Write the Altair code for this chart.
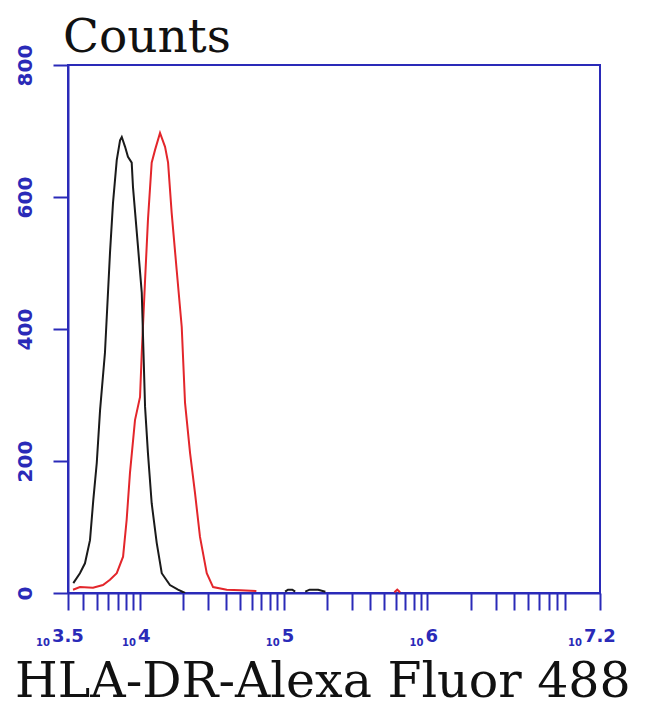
import altair as alt
import pandas as pd

# ---- data (x as log10 of intensity, y as counts) ----
black_log = [3.537, 3.583, 3.618, 3.653, 3.676, 3.700, 3.723, 3.757, 3.792, 3.813,
             3.839, 3.862, 3.874, 3.897, 3.917, 3.943, 3.952, 3.987, 4.013, 4.036,
             4.056, 4.082, 4.117, 4.152, 4.209, 4.265, 4.314]
black_cnt = [15, 30, 45, 80, 141, 197, 277, 364, 515, 591,
             656, 686, 691, 676, 661, 652, 615, 524, 455, 282,
             212, 136, 76, 30, 12, 5, 0]

red_log = [3.535, 3.583, 3.674, 3.743, 3.792, 3.839, 3.883, 3.908, 3.931, 3.966,
           4.001, 4.013, 4.036, 4.056, 4.082, 4.105, 4.140, 4.175, 4.196, 4.221,
           4.256, 4.291, 4.314, 4.349, 4.383, 4.418, 4.465, 4.509, 4.604, 4.700, 4.810]
red_cnt = [5, 9, 8, 12, 20, 30, 55, 111, 182, 262,
           297, 364, 474, 565, 652, 671, 697, 676, 652, 576,
           489, 403, 288, 212, 152, 85, 30, 9, 5, 4, 3]

# small blips near zero
black_bump1_log = [5.01, 5.03, 5.06, 5.08]
black_bump1_cnt = [2, 5, 5, 2]
black_bump2_log = [5.15, 5.18, 5.24, 5.29]
black_bump2_cnt = [2, 5, 5, 2]
red_bump_log = [5.77, 5.79, 5.81]
red_bump_cnt = [1, 5, 1]

x_tick_exps = [3.5, 4, 5, 6, 7.2]
x_tick_labels = ["3.5", "4", "5", "6", "7.2"]
y_ticks = [0, 200, 400, 600, 800]

x_min_exp, x_max_exp = 3.5, 7.2

# ---- build table ----
rows = []
def add(series, seg, logs, cnts):
    for l, c in zip(logs, cnts):
        rows.append({"series": series, "seg": seg, "x": 10 ** l, "y": c})

add("HLA-DR", "r0", red_log, red_cnt)
add("HLA-DR", "r1", red_bump_log, red_bump_cnt)
add("control", "b0", black_log, black_cnt)
add("control", "b1", black_bump1_log, black_bump1_cnt)
add("control", "b2", black_bump2_log, black_bump2_cnt)
df = pd.DataFrame(rows)

# minor/major tick positions on the log axis
tick_vals = [10 ** x_min_exp]
for d in range(3, 7):
    for m in range(1, 10):
        v = m * 10 ** d
        if 10 ** x_min_exp < v <= 10 ** 7:
            tick_vals.append(v)
tick_vals.append(10 ** x_max_exp)

lab_df = pd.DataFrame({"x": [10 ** e for e in x_tick_exps], "exp": x_tick_labels})

BLUE = "#2a2ab8"

xscale = alt.Scale(type="log", domain=[10 ** x_min_exp, 10 ** x_max_exp], nice=False)
yscale = alt.Scale(domain=[0, 800], nice=False)

lines = alt.Chart(df).mark_line(strokeWidth=2, clip=True).encode(
    x=alt.X("x:Q", scale=xscale, title=None,
            axis=alt.Axis(values=tick_vals, labels=False, tickSize=17, tickWidth=2,
                          tickColor=BLUE, domainColor=BLUE, domainWidth=2, grid=False)),
    y=alt.Y("y:Q", scale=yscale, title=None,
            axis=alt.Axis(values=y_ticks, tickSize=15, tickWidth=2, tickColor=BLUE,
                          domainColor=BLUE, domainWidth=2, grid=False,
                          labelAngle=270, labelAlign="center", labelBaseline="bottom",
                          labelPadding=18, labelFont="DejaVu Sans", labelFontWeight="bold",
                          labelFontSize=20, labelColor=BLUE)),
    color=alt.Color("series:N", scale=alt.Scale(domain=["HLA-DR", "control"],
                                                range=["#e3262b", "#1a1a1a"]), legend=None),
    detail="seg:N",
    order=alt.Order("x:Q"),
)

base_lab = alt.Chart(lab_df)
xenc = alt.X("x:Q", scale=xscale)

exp1 = base_lab.transform_filter("length(datum.exp) == 1").mark_text(
    align="left", baseline="alphabetic", dx=-2, font="DejaVu Sans", fontWeight="bold",
    fontSize=18, color=BLUE).encode(x=xenc, y=alt.value(577), text="exp:N")
exp3 = base_lab.transform_filter("length(datum.exp) > 1").mark_text(
    align="left", baseline="alphabetic", dx=-16, font="DejaVu Sans", fontWeight="bold",
    fontSize=18, color=BLUE).encode(x=xenc, y=alt.value(577), text="exp:N")
ten1 = base_lab.transform_filter("length(datum.exp) == 1").mark_text(
    align="right", baseline="alphabetic", dx=-4, font="DejaVu Sans", fontWeight="bold",
    fontSize=10, color=BLUE, text="10").encode(x=xenc, y=alt.value(581))
ten3 = base_lab.transform_filter("length(datum.exp) > 1").mark_text(
    align="right", baseline="alphabetic", dx=-18, font="DejaVu Sans", fontWeight="bold",
    fontSize=10, color=BLUE, text="10").encode(x=xenc, y=alt.value(581))

title_df = pd.DataFrame({"t": ["Counts"]})
xlab_df = pd.DataFrame({"t": ["HLA-DR-Alexa Fluor 488"]})

title = alt.Chart(title_df).mark_text(
    align="left", baseline="alphabetic", font="DejaVu Serif", fontSize=47,
    color="#111111").encode(text="t:N", x=alt.value(-5), y=alt.value(-13))
xlab = alt.Chart(xlab_df).mark_text(
    align="left", baseline="alphabetic", font="DejaVu Serif", fontSize=49,
    color="#111111").encode(text="t:N", x=alt.value(-53), y=alt.value(632))

chart = alt.layer(lines, exp1, exp3, ten1, ten3, title, xlab).properties(
    width=532, height=528,
    autosize=alt.AutoSizeParams(type="none"),
    padding={"left": 60, "top": 57, "right": 42, "bottom": 116},
    background="white",
).configure_view(stroke=BLUE, strokeWidth=2)

chart.save("out.html", embed_options={"renderer": "svg", "actions": False})
